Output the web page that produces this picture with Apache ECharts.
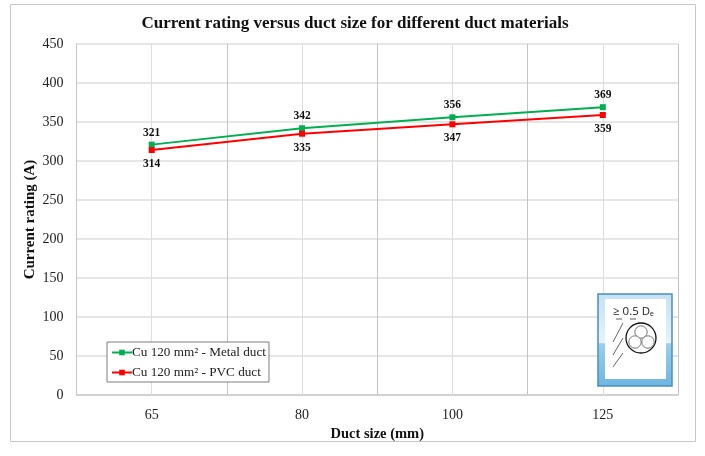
<!DOCTYPE html>
<html><head><meta charset="utf-8">
<style>html,body{margin:0;padding:0;background:#fff}#c{width:705px;height:456px}</style>
<script src="https://cdn.jsdelivr.net/npm/echarts@6/dist/echarts.min.js"></script>
</head><body><div id="c"></div>
<script>
const categories = ['65','80','100','125'];
const metalDuct = [321,342,356,369];
const pvcDuct = [314,335,347,359];
const yTicks = {min:0,max:450,interval:50};
const serif = '"Liberation Serif","Times New Roman",serif';
const chart = echarts.init(document.getElementById('c'),null,{renderer:'canvas'});
const lab = (pos,d) => ({show:true,position:pos,distance:d,fontFamily:serif,fontSize:11.5,fontWeight:'bold',color:'#111'});
const insetParts = [
  {type:'rect',shape:{x:0,y:0,width:74,height:92},style:{fill:new echarts.graphic.LinearGradient(0,0,0,1,[
    {offset:0,color:'#c5e1f2'},{offset:.53,color:'#e6f3fa'},{offset:.54,color:'#9ad0ec'},{offset:1,color:'#6db5e0'}]),stroke:'#4a8fbe',lineWidth:1.5}},
  {type:'rect',shape:{x:7,y:5,width:61,height:80},style:{fill:'#fff'}},
  {type:'text',style:{x:15,y:11,text:'≥ 0.5 D{s|e}',fontFamily:'"Open Sans",sans-serif',fontSize:11.5,fill:'#222',
    rich:{s:{fontSize:7,fill:'#222',padding:[6,0,0,0]}}}},
  {type:'line',shape:{x1:18,y1:25,x2:24,y2:25},style:{stroke:'#333',lineWidth:.8}},
  {type:'line',shape:{x1:32,y1:25,x2:38,y2:25},style:{stroke:'#333',lineWidth:.8}},
  {type:'line',shape:{x1:25,y1:29,x2:15,y2:48},style:{stroke:'#666',lineWidth:1}},
  {type:'line',shape:{x1:25,y1:44,x2:15,y2:61},style:{stroke:'#666',lineWidth:1}},
  {type:'line',shape:{x1:25,y1:59,x2:15,y2:73},style:{stroke:'#666',lineWidth:1}},
  {type:'circle',shape:{cx:43,cy:44,r:15},style:{fill:'#fff',stroke:'#111',lineWidth:1.3}},
  {type:'circle',shape:{cx:43,cy:38,r:6.2},style:{fill:'#fff',stroke:'#777',lineWidth:1}},
  {type:'circle',shape:{cx:37,cy:48,r:6.2},style:{fill:'#fff',stroke:'#777',lineWidth:1}},
  {type:'circle',shape:{cx:50,cy:48,r:6.2},style:{fill:'#fff',stroke:'#777',lineWidth:1}}
].map((p,i)=>Object.assign(p,{z:20+i}));
chart.setOption({
  animation:false,
  backgroundColor:'#fff',
  title:{text:'Current rating versus duct size for different duct materials',left:350,top:10,textAlign:'center',
    textStyle:{fontFamily:serif,fontSize:17,fontWeight:'bold',color:'#111'}},
  grid:{left:76.5,right:27,top:44,bottom:61,containLabel:false,show:false},
  legend:{orient:'vertical',left:107,top:342,padding:[3,3,2,4],itemGap:5,itemWidth:20,itemHeight:7,
    data:['Cu 120 mm² - Metal duct','Cu 120 mm² - PVC duct'],
    backgroundColor:'#fff',borderColor:'#7f7f7f',borderWidth:1,borderRadius:0,
    textStyle:{fontFamily:serif,fontSize:13.2,lineHeight:15,color:'#222',padding:[0,0,0,-5]}},
  xAxis:{type:'category',data:categories,boundaryGap:true,name:'Duct size (mm)',nameLocation:'middle',nameGap:32,
    nameTextStyle:{fontFamily:serif,fontSize:14.5,fontWeight:'bold',color:'#111'},
    axisLine:{lineStyle:{color:'#cacaca',width:1.5}},axisTick:{show:false},
    axisLabel:{fontFamily:serif,fontSize:14,color:'#222',margin:13},
    splitLine:{show:true,lineStyle:{color:'#c4c4c4',width:1}}},
  yAxis:{type:'value',min:yTicks.min,max:yTicks.max,interval:yTicks.interval,name:'Current rating (A)',nameLocation:'middle',nameGap:38.5,nameMoveOverlap:false,
    nameTextStyle:{fontFamily:serif,fontSize:15,fontWeight:'bold',color:'#111'},
    axisLine:{show:true,lineStyle:{color:'#c8c8c8',width:1}},axisTick:{show:false},
    axisLabel:{fontFamily:serif,fontSize:14,color:'#222',margin:13},
    splitLine:{show:true,lineStyle:{color:'#dedede',width:1.5}}},
  series:[
    {name:'gridCentres',type:'line',data:[],silent:true,z:1,
      markLine:{silent:true,z:1,symbol:'none',label:{show:false},lineStyle:{color:'#dedede',width:1,type:'solid'},
        data:categories.map(c=>({xAxis:c}))}},
    {name:'Cu 120 mm² - Metal duct',type:'line',data:metalDuct,color:'#00b050',symbol:'rect',symbolSize:6,
      lineStyle:{width:2},label:lab('top',3),z:3},
    {name:'Cu 120 mm² - PVC duct',type:'line',data:pvcDuct,color:'#ff0000',symbol:'rect',symbolSize:6,
      lineStyle:{width:2},label:lab('bottom',5),z:4}
  ],
  graphic:[
    {type:'rect',silent:true,z:-1,shape:{x:10.5,y:4.5,width:685,height:437},style:{fill:'none',stroke:'#c8c8c8',lineWidth:1}},
    {type:'group',x:598,y:294,silent:true,z:20,children:insetParts}
  ]
});
</script></body></html>
